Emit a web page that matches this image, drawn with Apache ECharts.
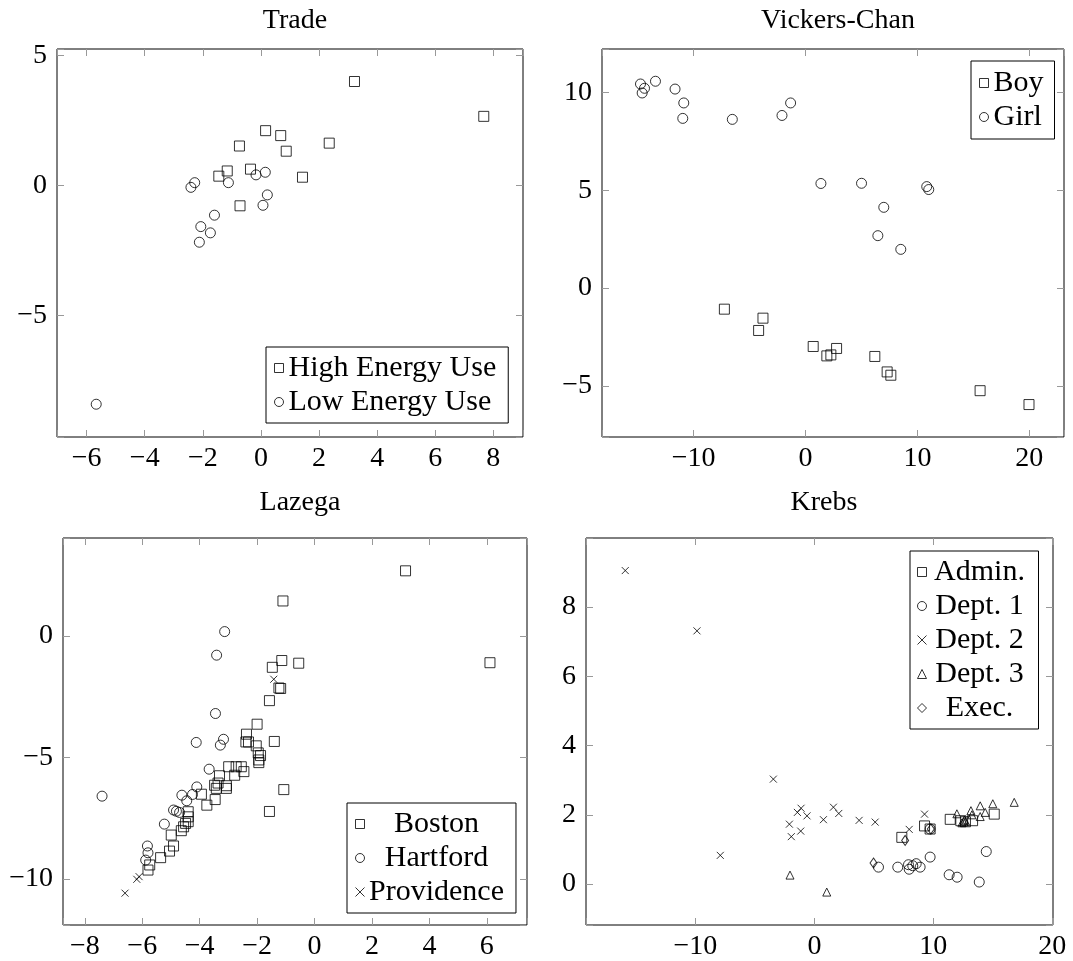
<!DOCTYPE html>
<html>
<head>
<meta charset="utf-8">
<script src="https://cdn.jsdelivr.net/npm/echarts@6/dist/echarts.min.js"></script>
<style>
  html, body { margin: 0; padding: 0; background: #fff; }
  #chart { width: 1073px; height: 961px; }
</style>
</head>
<body>
<div id="chart"></div>
<script>
// Trade
const tradeHighX = [3.22, 7.67, 0.16, 0.68, -0.74, 2.35, 0.87, -1.16, -1.45, -0.36, 1.43, -0.72];
const tradeHighY = [3.99, 2.65, 2.10, 1.91, 1.51, 1.62, 1.31, 0.55, 0.35, 0.62, 0.31, -0.79];
const tradeLowX = [0.15, -0.17, -1.12, -2.28, -2.41, 0.22, 0.07, -1.60, -2.07, -1.74, -2.12, -5.67];
const tradeLowY = [0.50, 0.40, 0.10, 0.10, -0.08, -0.37, -0.77, -1.15, -1.59, -1.83, -2.19, -8.42];

// Vickers-Chan
const boyX = [-7.26, -3.81, -4.20, 0.68, 1.90, 2.26, 2.77, 6.19, 7.29, 7.62, 15.6, 19.97];
const boyY = [-1.08, -1.54, -2.17, -2.99, -3.47, -3.42, -3.09, -3.50, -4.29, -4.46, -5.25, -5.96];
const girlX = [-14.76, -14.40, -14.61, -13.42, -11.67, -10.89, -10.98, -6.55, -2.11, -1.34, 1.37, 5.0, 10.83, 11.01, 6.99, 6.46, 8.51];
const girlY = [10.44, 10.22, 9.98, 10.58, 10.18, 9.47, 8.68, 8.63, 8.83, 9.47, 5.35, 5.36, 5.19, 5.04, 4.13, 2.68, 1.98];

// Lazega
const bostonX = [3.17, -1.10, 6.11, -0.55, -1.14, -1.47, -1.24, -1.18, -1.57, -2.00, -2.37, -2.39, -2.30, -1.40, -2.03,
  -1.96, -1.88, -1.94, -1.94, -1.07, -1.57, -2.99, -2.73, -2.55, -2.46, -2.78, -3.31, -3.48, -3.36, -3.07, -3.42, -3.07,
  -3.94, -3.46, -3.75, -4.40, -4.40, -4.40, -4.49, -4.56, -4.64, -4.99, -4.91, -5.05, -5.36, -5.74, -5.80];
const bostonY = [2.68, 1.44, -1.10, -1.12, -1.01, -1.29, -2.14, -2.16, -2.66, -3.63, -4.04, -4.36, -4.36, -4.34, -4.52,
  -4.81, -4.92, -5.10, -5.21, -6.32, -7.22, -5.38, -5.38, -5.38, -5.58, -5.73, -5.75, -6.14, -6.05, -6.16, -6.27, -6.27,
  -6.51, -6.73, -6.96, -7.23, -7.44, -7.64, -7.71, -7.85, -8.01, -8.19, -8.64, -8.85, -9.12, -9.42, -9.63];
const hartX = [-3.13, -3.41, -3.45, -4.12, -3.17, -3.28, -3.67, -7.40, -4.10, -4.62, -4.25, -4.45, -4.91, -4.81, -4.70, -5.23, -5.82, -5.80, -5.88];
const hartY = [0.18, -0.79, -3.19, -4.38, -4.25, -4.49, -5.48, -6.59, -6.21, -6.55, -6.52, -6.78, -7.16, -7.21, -7.26, -7.74, -8.64, -8.92, -9.22];
const provX = [-1.42, -6.11, -6.19, -6.60];
const provY = [-1.78, -9.90, -10.01, -10.58];

// Krebs
const adminX = [7.35, 9.26, 9.73, 11.42, 12.31, 13.30, 15.12, 12.70];
const adminY = [1.35, 1.68, 1.59, 1.87, 1.83, 1.83, 2.02, 1.80];
const dept1X = [5.39, 7.01, 7.97, 7.91, 8.56, 8.89, 8.27, 9.73, 11.33, 12.00, 13.86, 14.45, 9.73];
const dept1Y = [0.49, 0.49, 0.43, 0.56, 0.59, 0.49, 0.53, 0.78, 0.27, 0.20, 0.06, 0.94, 1.59];
const dept2X = [-15.9, -9.87, -3.45, -7.91, -2.10, -1.94, -1.43, -1.12, -0.62, -1.15, 0.76, 1.60, 2.05, 3.76, 5.11, 7.97, 9.26];
const dept2Y = [9.05, 7.31, 3.03, 0.83, 1.73, 1.37, 2.07, 2.19, 1.97, 1.53, 1.86, 2.22, 2.04, 1.84, 1.79, 1.58, 2.02];
const dept3X = [-2.05, 1.04, 16.8, 15.0, 13.94, 13.16, 11.98, 14.36, 13.24, 13.94, 12.54, 12.70, 12.40, 12.60];
const dept3Y = [0.26, -0.23, 2.36, 2.32, 2.26, 2.12, 2.03, 2.07, 2.00, 1.95, 1.79, 1.82, 1.77, 1.85];
const execX = [4.97, 7.63, 9.79];
const execY = [0.61, 1.26, 1.59];

const FONT = 'Liberation Serif';
const SQ = 'rect', CI = 'circle', TR = 'triangle', DI = 'diamond';
const CROSS = 'path://M0,0L10,10M10,0L0,10';

const chart = echarts.init(document.getElementById('chart'));

const grids = [
  { left: 57, top: 49, width: 466, height: 388 },
  { left: 602, top: 49, width: 462, height: 388 },
  { left: 63, top: 538, width: 464, height: 387 },
  { left: 586, top: 538, width: 467, height: 387 }
];
// [min, max, splitNumber, step] per grid
const xRanges = [[-7.02, 9.02, 8, 2], [-18.2, 23.1, 4, 10], [-8.76, 7.4, 8, 2], [-19.2, 20.06, 4, 10]];
const yRanges = [[-9.68, 5.24, 3, 5], [-7.62, 12.23, 4, 5], [-11.89, 4.03, 3, 5], [-1.18, 9.99, 6, 2]];

function fmt(step) {
  return v => {
    const k = v / step;
    if (Math.abs(k - Math.round(k)) > 1e-6) return '';
    const r = Math.round(v * 1000) / 1000;
    return r < 0 ? '\u2212' + (-r) : String(r);
  };
}

function axis(gi, r, pos) {
  const main = pos === 'bottom' || pos === 'left';
  return {
    type: 'value', gridIndex: gi, position: pos,
    min: r[0], max: r[1], splitNumber: r[2],
    splitLine: { show: false },
    axisLine: { show: false, onZero: false },
    axisTick: { show: true, inside: true, length: 7, lineStyle: { color: '#999', width: 1 } },
    axisLabel: main ? {
      show: true, formatter: fmt(r[3]), margin: pos === 'bottom' ? 8 : 10,
      color: '#000', fontFamily: FONT, fontSize: 28,
      showMinLabel: true, showMaxLabel: true
    } : { show: false }
  };
}

const xAxis = [], yAxis = [];
grids.forEach((g, i) => {
  xAxis.push(axis(i, xRanges[i], 'bottom'), axis(i, xRanges[i], 'top'));
  yAxis.push(axis(i, yRanges[i], 'left'), axis(i, yRanges[i], 'right'));
});

const hollow = { color: 'rgba(0,0,0,0)', borderColor: '#000', borderWidth: 1 };

function sc(name, xs, ys, symbol, size, gi) {
  return {
    type: 'scatter', name, xAxisIndex: gi * 2, yAxisIndex: gi * 2,
    data: xs.map((x, i) => [x, ys[i]]),
    symbol, symbolSize: size,
    itemStyle: hollow,
    silent: true, emphasis: { disabled: true }
  };
}

function legend(pos, items, textWidth) {
  return {
    left: pos[0], top: pos[1], orient: 'vertical',
    selectedMode: false,
    backgroundColor: '#fff',
    borderColor: '#000', borderWidth: 1,
    padding: pos[2],
    itemGap: 2, itemWidth: 9, itemHeight: 9,
    itemStyle: hollow,
    data: items.map(it => ({ name: it[0], icon: it[1] })),
    formatter: textWidth ? (n => '{t|' + n + '}') : (n => n),
    textStyle: {
      fontFamily: FONT, fontSize: 30, color: '#000', lineHeight: 32,
      rich: textWidth ? { t: { width: textWidth, align: 'center', fontFamily: FONT, fontSize: 30, lineHeight: 32, color: '#000' } } : undefined
    }
  };
}

function title(text, x, y) {
  return {
    text, left: x, top: y, textAlign: 'center',
    textStyle: { fontFamily: FONT, fontSize: 28, fontWeight: 'normal', color: '#000' }
  };
}

const option = {
  animation: false,
  backgroundColor: '#fff',
  title: [
    title('Trade', 290, 2),
    title('Vickers-Chan', 833, 2),
    title('Lazega', 295, 484),
    title('Krebs', 819, 484)
  ],
  grid: grids.map(g => Object.assign({ show: true, borderColor: '#000', borderWidth: 1, backgroundColor: 'transparent' }, g)),
  xAxis, yAxis,
  legend: [
    legend([266, 347, [5, 12, 5, 8]], [['High Energy Use', SQ], ['Low Energy Use', CI]]),
    legend([971, 61, [6, 11, 6, 8]], [['Boy', SQ], ['Girl', CI]]),
    legend([347, 803, [5, 12, 5, 8]], [['Boston', SQ], ['Hartford', CI], ['Providence', CROSS]], 134),
    legend([910, 551, [5, 11, 5, 7]], [['Admin.', SQ], ['Dept. 1', CI], ['Dept. 2', CROSS], ['Dept. 3', TR], ['Exec.', DI]], 96)
  ],
  series: [
    sc('High Energy Use', tradeHighX, tradeHighY, SQ, 10, 0),
    sc('Low Energy Use', tradeLowX, tradeLowY, CI, 10, 0),
    sc('Boy', boyX, boyY, SQ, 10, 1),
    sc('Girl', girlX, girlY, CI, 10, 1),
    sc('Boston', bostonX, bostonY, SQ, 10, 2),
    sc('Hartford', hartX, hartY, CI, 10, 2),
    sc('Providence', provX, provY, CROSS, 7, 2),
    sc('Admin.', adminX, adminY, SQ, 10, 3),
    sc('Dept. 1', dept1X, dept1Y, CI, 10, 3),
    sc('Dept. 2', dept2X, dept2Y, CROSS, 7, 3),
    sc('Dept. 3', dept3X, dept3Y, TR, 8, 3),
    sc('Exec.', execX, execY, DI, [7, 10], 3)
  ]
};

chart.setOption(option);
</script>
</body>
</html>
